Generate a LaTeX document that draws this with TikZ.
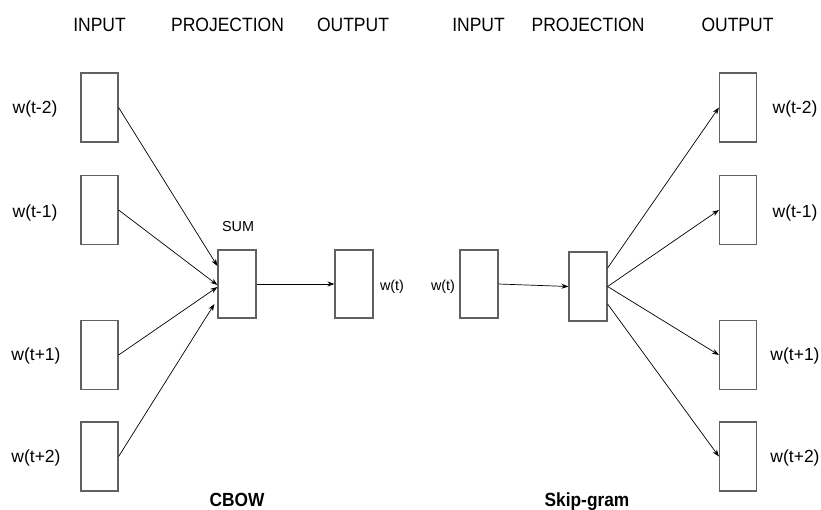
\documentclass[tikz,border=0pt]{standalone}
\usepackage{fontspec}
\usepackage{graphicx}
\setmainfont{Liberation Sans}
\usetikzlibrary{arrows.meta}
% slightly taller lettering for headings and titles
\newcommand{\tallish}[1]{\scalebox{1}[1.1]{#1}}
\begin{document}
\begin{tikzpicture}[x=1pt,y=-1pt,
  wordbox/.style={draw=black!62, line width=1.2pt, fill=white,
    minimum width=37pt, minimum height=69pt, inner sep=0pt},
  head/.style={font=\fontsize{17.5}{20}\selectfont, inner sep=0pt, anchor=base},
  wlabel/.style={font=\fontsize{17.5}{20}\selectfont, inner sep=0pt},
  small/.style={font=\fontsize{14.4}{16}\selectfont, inner sep=0pt},
  title/.style={font=\bfseries\fontsize{17.3}{20}\selectfont, inner sep=0pt, anchor=base},
  link/.style={line width=0.7pt, -{Stealth[length=7pt,width=5pt]}}]
\useasboundingbox (0,0) rectangle (821,509);

% column headings
\node[head] (h1) at (99.5,31.5) {\tallish{INPUT}};
\node[head] (h2) at (227.5,31.5) {\tallish{PROJECTION}};
\node[head] (h3) at (353,31.5) {\tallish{OUTPUT}};
\node[head] (h4) at (478.5,31.5) {\tallish{INPUT}};
\node[head] (h5) at (588,31.5) {\tallish{PROJECTION}};
\node[head] (h6) at (737.5,31.5) {\tallish{OUTPUT}};

% CBOW
\node[wordbox] (ci1) at (99.5,107.5) {};
\node[wordbox] (ci2) at (99.5,210) {};
\node[wordbox] (ci3) at (99.5,355) {};
\node[wordbox] (ci4) at (99.5,456.5) {};
\node[wlabel] (cl1) at (35,109) {w(t-2)};
\node[wlabel] (cl2) at (35,213) {w(t-1)};
\node[wlabel] (cl3) at (36,356) {w(t+1)};
\node[wlabel] (cl4) at (36,458) {w(t+2)};
\node[wordbox, minimum width=38pt, minimum height=68pt] (sum) at (237,284) {};
\node[small] (sumlab) at (238,227) {SUM};
\node[wordbox, minimum width=38pt, minimum height=68pt] (cout) at (354,284) {};
\node[small] (coutlab) at (392,287) {w(t)};
\node[title] (cbow) at (237,506) {\tallish{CBOW}};

\draw[link] (ci1.east) -- ([yshift=18pt]sum.west);
\draw[link] (ci2.east) -- ([yshift=-1pt]sum.west);
\draw[link] (ci3.east) -- ([yshift=-3pt]sum.west);
\draw[link] (ci4.east) -- ([xshift=-3pt,yshift=-20pt]sum.west);
\draw[link] (sum.east) -- (cout.west);

% Skip-gram
\node[wordbox, minimum width=38pt, minimum height=68pt] (sin) at (479,284) {};
\node[small] (sinlab) at (443,287) {w(t)};
\node[wordbox, minimum width=38pt, minimum height=69pt] (sproj) at (588,286.5) {};
\node[wordbox] (so1) at (738,107.5) {};
\node[wordbox] (so2) at (738,210) {};
\node[wordbox] (so3) at (738,355) {};
\node[wordbox] (so4) at (738,456.5) {};
\node[wlabel] (sl1) at (795,109) {w(t-2)};
\node[wlabel] (sl2) at (795,213) {w(t-1)};
\node[wlabel] (sl3) at (795,356) {w(t+1)};
\node[wlabel] (sl4) at (795,458) {w(t+2)};
\node[title] (skip) at (587,506) {\tallish{Skip-gram}};

\draw[link] (sin.east) -- (sproj.west);
\draw[link] ([yshift=18.5pt]sproj.east) -- (so1.west);
\draw[link] (sproj.east) -- (so2.west);
\draw[link] (sproj.east) -- (so3.west);
\draw[link] ([yshift=-17.5pt]sproj.east) -- (so4.west);
\end{tikzpicture}
\end{document}
